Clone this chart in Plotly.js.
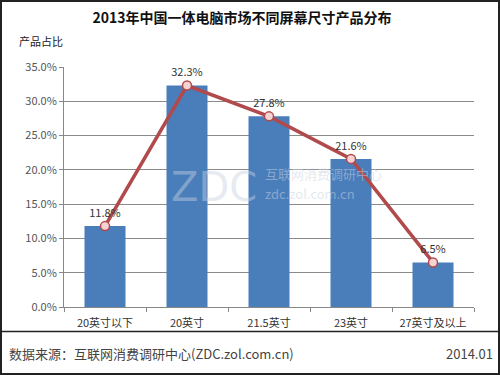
<!DOCTYPE html>
<html><head><meta charset="utf-8">
<script src="https://cdn.plot.ly/plotly-3.0.1.min.js"></script>
<style>html,body{margin:0;padding:0;background:#fff}#c{width:500px;height:375px;box-sizing:border-box;border:2px solid #222;position:relative}#p{position:absolute;left:-2px;top:-2px;width:500px;height:375px}</style>
</head><body><div id="c"><div id="p"></div></div>
<script>
const categories = ['20英寸以下','20英寸','21.5英寸','23英寸','27英寸及以上'];
const shares = [11.8, 32.3, 27.8, 21.6, 6.5];
const labels = ['11.8%','32.3%','27.8%','21.6%','6.5%'];
const yTicks = [0,5,10,15,20,25,30,35];
const yTickText = ['0.0%','5.0%','10.0%','15.0%','20.0%','25.0%','30.0%','35.0%'];
const F = '"Noto Sans CJK SC", "DejaVu Sans", sans-serif';
const data = [
  {type:'bar', x:categories, y:shares, marker:{color:'#4a7ebb'}, hoverinfo:'none'},
  {type:'scatter', mode:'lines+markers+text', x:categories, y:shares, text:labels,
   textposition:'top center', textfont:{family:F,size:11,color:'#333'},
   line:{color:'#b04a4c',width:3.5}, marker:{size:9,color:'#f6d3d3',line:{color:'#b04a4c',width:1.5}}, hoverinfo:'none'}
];
const layout = {
  width:500, height:375, margin:{l:64,r:26,t:67,b:68},
  paper_bgcolor:'rgba(0,0,0,0)', plot_bgcolor:'#fff', showlegend:false, bargap:0.5,
  font:{family:F,size:11,color:'#333'},
  title:{text:'<b>2013年中国一体电脑市场不同屏幕尺寸产品分布</b>', x:0.484, xanchor:'center', y:0.952, yanchor:'middle', font:{family:F,size:14,color:'#111'}},
  xaxis:{showline:true, linecolor:'#888', ticks:'outside', ticklen:4, tickcolor:'#888', tickson:'boundaries',
         ticklabelstandoff:6, tickfont:{family:F,size:11,color:'#333'}, showgrid:false},
  yaxis:{range:[0,35], tickvals:yTicks, ticktext:yTickText, showline:true, linecolor:'#888',
         ticks:'outside', ticklen:4, tickcolor:'#888', gridcolor:'#8a8a8a', gridwidth:1,
         tickfont:{family:F,size:11,color:'#555'}, zeroline:false},
  shapes:[{type:'line', xref:'paper', yref:'paper', x0:-0.16, x1:1.065, y0:-0.102, y1:-0.102, line:{color:'#222',width:1.5}}],
  annotations:[
    {text:'产品占比', xref:'paper', yref:'paper', x:-0.115, y:1.11, xanchor:'left', yanchor:'middle', showarrow:false, font:{family:F,size:11,color:'#222'}},
    {text:'数据来源：互联网消费调研中心(ZDC.zol.com.cn)', xref:'paper', yref:'paper', x:-0.14, y:-0.195, xanchor:'left', yanchor:'middle', showarrow:false, font:{family:F,size:13,color:'#444'}},
    {text:'2014.01', xref:'paper', yref:'paper', x:1.05, y:-0.195, xanchor:'right', yanchor:'middle', showarrow:false, font:{family:F,size:13,color:'#444'}},
    {text:'ZDC', xref:'paper', yref:'paper', x:0.255, y:0.5, xanchor:'left', yanchor:'middle', showarrow:false, font:{family:'DejaVu Sans',size:40,color:'rgba(200,210,225,0.45)'}},
    {text:'互联网消费调研中心', xref:'paper', yref:'paper', x:0.485, y:0.555, xanchor:'left', yanchor:'middle', showarrow:false, font:{family:F,size:13,color:'rgba(200,210,225,0.5)'}},
    {text:'zdc.zol.com.cn', xref:'paper', yref:'paper', x:0.485, y:0.475, xanchor:'left', yanchor:'middle', showarrow:false, font:{family:F,size:13,color:'rgba(200,210,225,0.5)'}}
  ]
};
Plotly.newPlot('p', data, layout, {staticPlot:true});
</script></body></html>
